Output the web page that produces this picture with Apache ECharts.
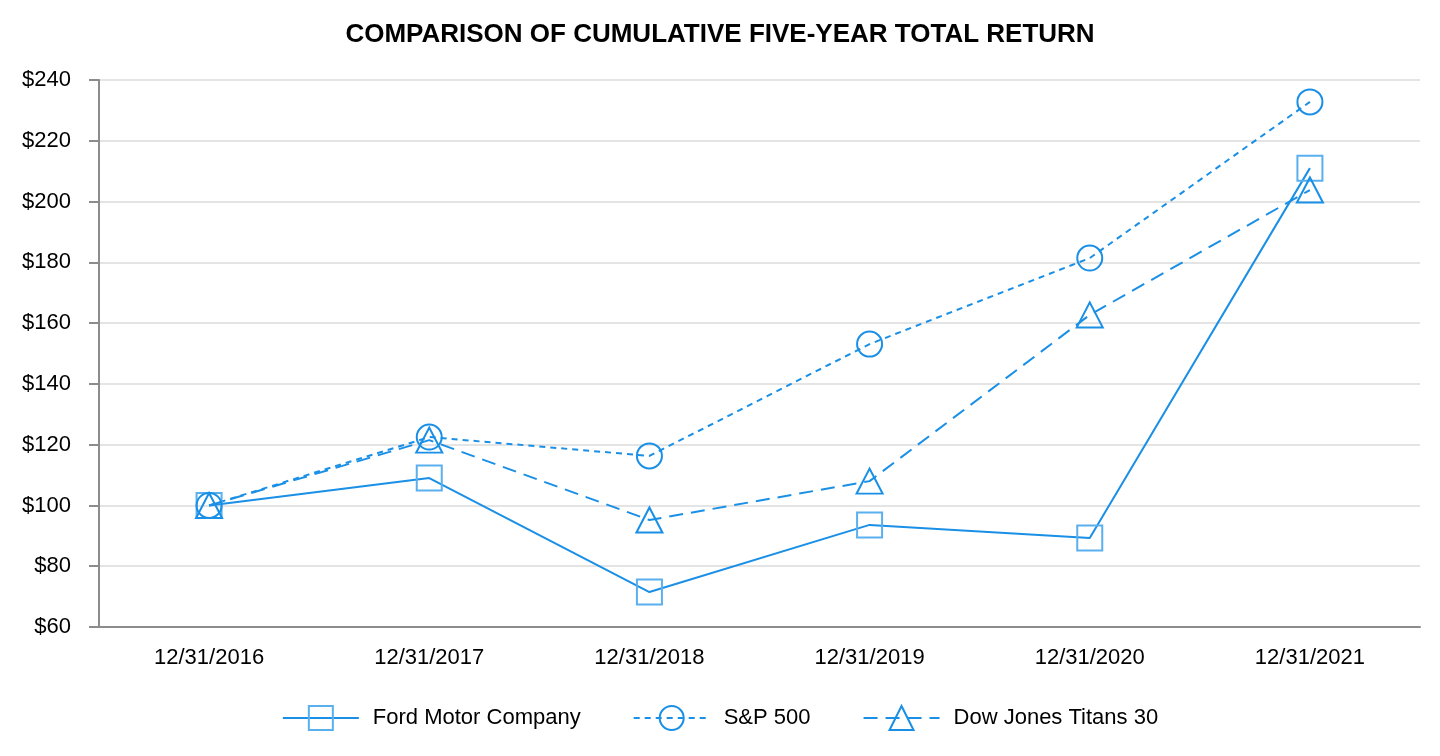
<!DOCTYPE html>
<html><head><meta charset="utf-8">
<script src="https://cdn.jsdelivr.net/npm/echarts@6/dist/echarts.min.js"></script>
<style>html,body{margin:0;padding:0;background:#fff}#c{width:1440px;height:756px}</style>
</head><body><div id="c"></div>
<script>
const categories = ['12/31/2016','12/31/2017','12/31/2018','12/31/2019','12/31/2020','12/31/2021'];
const ford = [100, 109.0, 71.5, 93.6, 89.3, 211.0];
const sp500 = [100, 122.5, 116.3, 153.1, 181.4, 232.8];
const dow = [100, 121.5, 95.2, 108.0, 162.7, 203.8];
const yTicks = {min: 60, max: 240, interval: 20};

const lineColor = '#1a8fe6';
const font = 'Liberation Sans, Arial, sans-serif';
const chart = echarts.init(document.getElementById('c'));
function mk(name, data, symbol, markerColor, lineType) {
  return {
    name, type: 'line', data, symbol, symbolSize: symbol === 'triangle' ? [26, 25] : 25,
    showAllSymbol: true,
    lineStyle: {color: lineColor, width: 2, type: lineType},
    itemStyle: {color: 'rgba(0,0,0,0)', borderColor: markerColor, borderWidth: 2},
    emphasis: {disabled: true}
  };
}
chart.setOption({
  animation: false,
  title: {text: 'COMPARISON OF CUMULATIVE FIVE-YEAR TOTAL RETURN', left: 'center', top: 17,
    textStyle: {fontFamily: font, fontSize: 26, fontWeight: 'bold', color: '#000'}},
  grid: {left: 99, right: 20, top: 80, bottom: 129},
  legend: {
    bottom: 20, left: 'center', itemWidth: 76, itemHeight: 30, itemGap: 52,
    textStyle: {fontFamily: font, fontSize: 22, color: '#000', padding: [0, 0, 0, 9]},
    data: ['Ford Motor Company', 'S&P 500', 'Dow Jones Titans 30']
  },
  xAxis: {
    type: 'category', data: categories, boundaryGap: true,
    axisLine: {lineStyle: {color: '#8c8c8c', width: 2}},
    axisTick: {alignWithLabel: true, length: 10, lineStyle: {color: '#8c8c8c', width: 2}},
    axisLabel: {fontFamily: font, fontSize: 22, color: '#000', margin: 20}
  },
  yAxis: {
    type: 'value', min: yTicks.min, max: yTicks.max, interval: yTicks.interval,
    axisLine: {show: true, lineStyle: {color: '#8c8c8c', width: 2}},
    axisTick: {show: true, length: 10, lineStyle: {color: '#8c8c8c', width: 2}},
    splitLine: {lineStyle: {color: '#e4e4e4', width: 2}},
    axisLabel: {fontFamily: font, fontSize: 22, color: '#000', margin: 28, formatter: v => '$' + v}
  },
  series: [
    mk('Ford Motor Company', ford, 'rect', '#5ab0ee', 'solid'),
    mk('S&P 500', sp500, 'circle', lineColor, [6, 5]),
    mk('Dow Jones Titans 30', dow, 'triangle', lineColor, [14, 8])
  ]
});
</script></body></html>
